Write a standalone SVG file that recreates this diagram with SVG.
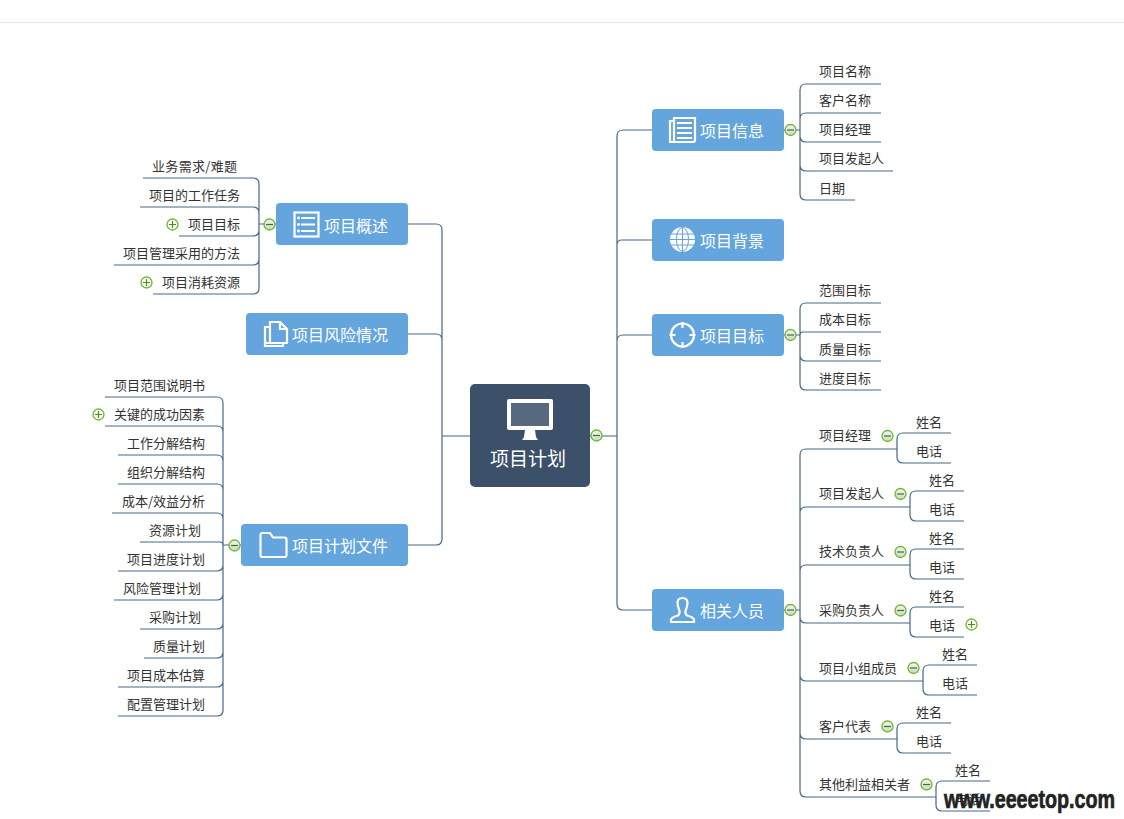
<svg xmlns="http://www.w3.org/2000/svg" xmlns:xlink="http://www.w3.org/1999/xlink" width="1124" height="819" viewBox="0 0 1124 819">
<style>
text{font-family:"Noto Sans CJK SC","Liberation Sans",sans-serif}
.c{fill:none;stroke:#47688a;stroke-width:1.2}
.n{fill:#65a5de}
.l{font-size:16px;fill:#fff}
.t{font-size:13px;fill:#333}
.e{text-anchor:end}
.m{text-anchor:middle}
.i{fill:none;stroke:#fff;stroke-width:2.2}
.f{fill:#fff}
</style>
<defs>
<linearGradient id="g" x1="0" y1="0" x2="0" y2="1"><stop offset="0" stop-color="#f4f6f2"/><stop offset="1" stop-color="#c9d9bd"/></linearGradient>
<g id="minus"><circle r="5.500" fill="url(#g)" stroke="#6ab82e" stroke-width="1.300"/><path d="M-3.500 0H3.500" stroke="#4a6a40" stroke-width="1.200"/></g>
<g id="plus"><circle r="5.500" fill="#fbfdf8" stroke="#6ab82e" stroke-width="1.300"/><path d="M-3.500 0H3.500M0-3.500V3.500" stroke="#4f8a2a" stroke-width="1.200"/></g>
</defs>
<rect width="1124" height="819" fill="#fff"/>
<path d="M0 22.500H1124" stroke="#e6e6e6"/>
<g id="connectors" class="c">
<path d="M590 436H617M470 436H442"/>
<path d="M617 436V136Q617 130 623 130H652M617 436V245Q617 240 622 240H652M617 436V341Q617 335 623 335H652M617 436V604Q617 610 623 610H652"/>
<path d="M442 436V230Q442 224 436 224H408M442 436V340Q442 334 436 334H408M442 436V539Q442 545 436 545H408"/>
<path d="M784 130H800M800 130V90Q800 84 806 84H881M800 130V119Q800 113 806 113H881M800 130V136Q800 142 806 142H881M800 130V165Q800 171 806 171H893M800 130V194Q800 200 806 200H855"/>
<path d="M784 335H800M800 335V309Q800 303 806 303H881M800 335Q800 332 803 332H881M800 335V355Q800 361 806 361H881M800 335V384Q800 390 806 390H881"/>
<path d="M784 610H800M800 610V455Q800 449 806 449H897M800 610V513Q800 507 806 507H910M800 610V571Q800 565 806 565H910M800 610V617Q800 623 806 623H910M800 610V675Q800 681 806 681H923M800 610V733Q800 739 806 739H897M800 610V791Q800 797 806 797H936"/>
<path d="M897 449V439Q897 433 903 433H951M897 449V457Q897 463 903 463H951"/>
<path d="M910 507V497Q910 491 916 491H964M910 507V515Q910 521 916 521H964"/>
<path d="M910 565V555Q910 549 916 549H964M910 565V573Q910 579 916 579H964"/>
<path d="M910 623V613Q910 607 916 607H964M910 623V631Q910 637 916 637H964"/>
<path d="M923 681V671Q923 665 929 665H977M923 681V689Q923 695 929 695H977"/>
<path d="M897 739V729Q897 723 903 723H951M897 739V747Q897 753 903 753H951"/>
<path d="M936 797V787Q936 781 942 781H990M936 797V805Q936 811 942 811H990"/>
<path d="M276 224H259M259 224V184Q259 178 253 178H143M259 224V213Q259 207 253 207H140M259 224V230Q259 236 253 236H179M259 224V259Q259 265 253 265H114M259 224V288Q259 294 253 294H153"/>
<path d="M241 545H223M223 545V403Q223 397 217 397H105M223 545V432Q223 426 217 426H105M223 545V461Q223 455 217 455H118M223 545V490Q223 484 217 484H118M223 545V519Q223 513 217 513H112M223 545Q223 542 220 542H140M223 545V565Q223 571 217 571H118M223 545V594Q223 600 217 600H114M223 545V623Q223 629 217 629H140M223 545V652Q223 658 217 658H144M223 545V681Q223 687 217 687H118M223 545V710Q223 716 217 716H118"/>
</g>
<g id="center">
<rect x="470" y="384" width="120" height="103" rx="5" fill="#3c5069"/>
<rect x="507" y="399" width="46" height="31" rx="2" fill="#fff"/>
<rect x="511" y="403" width="38" height="23" fill="#56697f"/>
<path class="f" d="M525 430H535L536 437L538 440H522L524 437Z"/>
<text x="528" y="465.500" class="m" font-size="19" fill="#fff">项目计划</text>
<use href="#minus" x="596.500" y="435.500"/>
</g>
<g id="n-info">
<rect class="n" x="652" y="109" width="132" height="42" rx="4"/>
<path class="i" d="M674 121H670V142H693Q695 142 695 140V118H674V142"/>
<path class="i" d="M677 123H692M677 128H692M677 133H692M677 138H692" stroke-width="1.500"/>
<text class="l" x="700" y="136.500">项目信息</text>
<use href="#minus" x="790.500" y="130"/>
<text class="t" x="819" y="76">项目名称</text>
<text class="t" x="819" y="105">客户名称</text>
<text class="t" x="819" y="134">项目经理</text>
<text class="t" x="819" y="163">项目发起人</text>
<text class="t" x="819" y="193">日期</text>
</g>
<g id="n-background">
<rect class="n" x="652" y="219" width="132" height="42" rx="4"/>
<circle class="f" cx="682.500" cy="239.500" r="12.500"/>
<g fill="none" stroke="#65a5de" stroke-width="1">
<path d="M670 239.500H695M671 234H694M671 245H694M682.500 227V252"/>
<ellipse cx="682.500" cy="239.500" rx="6" ry="12"/>
</g>
<text class="l" x="700" y="246.500">项目背景</text>
</g>
<g id="n-goal">
<rect class="n" x="652" y="314" width="132" height="42" rx="4"/>
<circle class="i" cx="682.500" cy="335" r="11.500"/>
<path class="i" d="M682.500 322V328M682.500 342V348M669.500 335H675.500M689.500 335H695.500"/>
<text class="l" x="700" y="341.500">项目目标</text>
<use href="#minus" x="790.500" y="335"/>
<text class="t" x="819" y="295">范围目标</text>
<text class="t" x="819" y="324">成本目标</text>
<text class="t" x="819" y="354">质量目标</text>
<text class="t" x="819" y="383">进度目标</text>
</g>
<g id="n-people">
<rect class="n" x="652" y="589" width="132" height="42" rx="4"/>
<path class="i" d="M671 622V619.500Q672 617 678 615.500Q680 614 679.500 611Q677.500 606 677.500 603Q677.500 598 682.500 598Q687.500 598 687.500 603Q687.500 606 685.500 611Q685 614 687 615.500Q693 617 694 619.500V622Z"/>
<text class="l" x="700" y="616.500">相关人员</text>
<use href="#minus" x="790.500" y="610"/>
<text class="t" x="819" y="440">项目经理</text>
<text class="t" x="819" y="498">项目发起人</text>
<text class="t" x="819" y="556">技术负责人</text>
<text class="t" x="819" y="615">采购负责人</text>
<text class="t" x="819" y="673">项目小组成员</text>
<text class="t" x="819" y="731">客户代表</text>
<text class="t" x="819" y="789">其他利益相关者</text>
<use href="#minus" x="887.500" y="436"/>
<use href="#minus" x="900.500" y="494"/>
<use href="#minus" x="900.500" y="552"/>
<use href="#minus" x="900.500" y="610.500"/>
<use href="#minus" x="913.500" y="668"/>
<use href="#minus" x="887.500" y="726.500"/>
<use href="#minus" x="926.500" y="784.500"/>
<g class="t m">
<text x="929" y="427">姓名</text><text x="929" y="456">电话</text>
<text x="942" y="485">姓名</text><text x="942" y="514">电话</text>
<text x="942" y="543">姓名</text><text x="942" y="572">电话</text>
<text x="942" y="601">姓名</text><text x="942" y="630">电话</text>
<text x="955" y="659">姓名</text><text x="955" y="688">电话</text>
<text x="929" y="717">姓名</text><text x="929" y="746">电话</text>
<text x="968" y="775">姓名</text><text x="968" y="804">电话</text>
</g>
<use href="#plus" x="971.500" y="624.500"/>
</g>
<g id="n-overview">
<rect class="n" x="276" y="203" width="132" height="42" rx="4"/>
<rect class="i" x="294.500" y="212.500" width="24" height="24" stroke-width="2"/>
<path class="i" d="M301 218H315M301 224.500H315M301 231H315" stroke-width="1.500"/>
<circle class="f" cx="298.500" cy="218" r="1.400"/><circle class="f" cx="298.500" cy="224.500" r="1.400"/><circle class="f" cx="298.500" cy="231" r="1.400"/>
<text class="l" x="324" y="231.500">项目概述</text>
<use href="#minus" x="269.500" y="224.500"/>
<g class="t e">
<text x="237" y="171" textLength="85" lengthAdjust="spacing">业务需求/难题</text>
<text x="240" y="200">项目的工作任务</text>
<text x="240" y="229">项目目标</text>
<text x="240" y="258">项目管理采用的方法</text>
<text x="240" y="287">项目消耗资源</text>
</g>
<use href="#plus" x="172.500" y="224.500"/>
<use href="#plus" x="146.500" y="282.500"/>
</g>
<g id="n-risk">
<rect class="n" x="246" y="313" width="162" height="42" rx="4"/>
<path class="i" d="M270 343H265V327H270M270 343V322H280L287 329V343ZM280 322V329H287M265 343V346H283V343"/>
<text class="l" x="292" y="340.500">项目风险情况</text>
</g>
<g id="n-plan">
<rect class="n" x="241" y="524" width="167" height="42" rx="4"/>
<path class="i" stroke-width="3" d="M260.500 555V535Q260.500 533 262.500 533H270L273 537.500H284.500Q286.500 537.500 286.500 539.500V555Q286.500 557 284.500 557H262.500Q260.500 557 260.500 555Z"/>
<text class="l" x="292" y="551.500">项目计划文件</text>
<use href="#minus" x="234.500" y="545.500"/>
<g class="t e">
<text x="205" y="390">项目范围说明书</text>
<text x="205" y="419">关键的成功因素</text>
<text x="205" y="448">工作分解结构</text>
<text x="205" y="477">组织分解结构</text>
<text x="205" y="506">成本/效益分析</text>
<text x="201" y="535">资源计划</text>
<text x="205" y="564">项目进度计划</text>
<text x="201" y="593">风险管理计划</text>
<text x="201" y="622">采购计划</text>
<text x="205" y="651">质量计划</text>
<text x="205" y="680">项目成本估算</text>
<text x="205" y="709">配置管理计划</text>
</g>
<use href="#plus" x="98.500" y="414.500"/>
</g>
<text transform="translate(944 808) scale(.758 1)" font-size="26" font-weight="700" fill="#222" stroke="#222" stroke-width=".7" style="font-family:'Liberation Sans',sans-serif">www.eeeetop.com</text>
</svg>
